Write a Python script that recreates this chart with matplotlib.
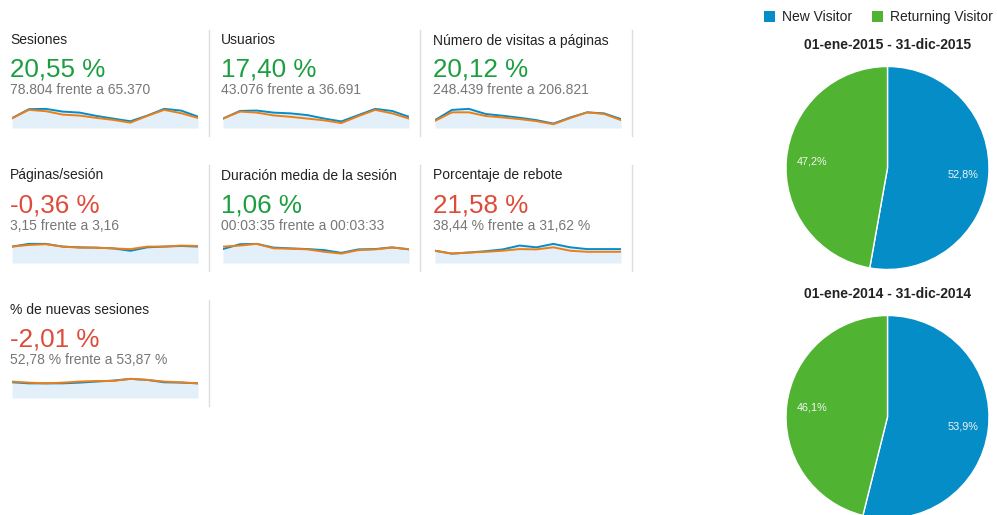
import matplotlib
matplotlib.use("Agg")
import matplotlib.pyplot as plt
from matplotlib.patches import Rectangle

plt.rcParams['font.family'] = ['Liberation Sans', 'DejaVu Sans']

W, H = 997, 515

# metric cards: name, change vs previous year, totals text
metric_names = ["Sesiones", "Usuarios", "Número de visitas a páginas",
                "Páginas/sesión", "Duración media de la sesión", "Porcentaje de rebote",
                "% de nuevas sesiones"]
metric_changes = ["20,55 %", "17,40 %", "20,12 %", "-0,36 %", "1,06 %", "21,58 %", "-2,01 %"]
metric_good = [True, True, True, False, True, False, False]
metric_compare = ["78.804 frente a 65.370", "43.076 frente a 36.691",
                  "248.439 frente a 206.821", "3,15 frente a 3,16",
                  "00:03:35 frente a 00:03:33", "38,44 % frente a 31,62 %",
                  "52,78 % frente a 53,87 %"]

# monthly values, 2015 (current) and 2014 (previous)
sessions_2015 = [4580, 8830, 8970, 7700, 7220, 5660, 4390, 3160, 5810, 8970, 8170, 5330]
sessions_2014 = [4580, 8500, 7880, 6280, 5810, 4720, 3780, 2500, 5660, 8500, 6940, 4720]
users_2015 = [2480, 4500, 4610, 4060, 3860, 3400, 2480, 1740, 3400, 5050, 4500, 2950]
users_2014 = [2480, 4330, 4060, 3310, 2950, 2480, 2010, 1300, 3120, 4780, 3860, 2480]
pageviews_2015 = [13630, 31330, 33100, 24250, 21240, 17700, 13630, 7610, 18230, 27080, 25310, 15400]
pageviews_2014 = [12390, 27080, 27080, 20710, 18230, 15400, 11860, 6550, 17170, 27080, 24250, 13630]
pps_2015 = [3.19, 3.72, 3.72, 3.19, 3.05, 2.98, 2.84, 2.37, 3.05, 3.19, 3.31, 3.19]
pps_2014 = [3.19, 3.51, 3.65, 3.19, 2.98, 2.98, 2.84, 2.70, 3.19, 3.19, 3.39, 3.31]
duration_2015 = [205, 276, 281, 226, 215, 205, 189, 149, 200, 205, 230, 200]
duration_2014 = [241, 256, 281, 215, 210, 200, 164, 138, 189, 200, 226, 204]
bounce_2015 = [33.6, 25.8, 28.7, 32.4, 37.3, 47.9, 43.0, 52.5, 43.0, 38.2, 38.2, 38.2]
bounce_2014 = [33.6, 25.8, 28.7, 30.7, 33.6, 38.2, 37.3, 43.0, 33.6, 30.7, 30.7, 30.7]
newsess_2015 = [51.8, 48.3, 48.3, 48.3, 50.7, 54.2, 57.6, 63.1, 59.7, 51.8, 50.7, 48.3]
newsess_2014 = [54.2, 50.7, 48.3, 50.7, 54.2, 56.2, 56.2, 63.1, 59.7, 54.2, 51.8, 48.3]

series_now = [sessions_2015, users_2015, pageviews_2015, pps_2015,
              duration_2015, bounce_2015, newsess_2015]
series_prev = [sessions_2014, users_2014, pageviews_2014, pps_2014,
               duration_2014, bounce_2014, newsess_2014]

# visitor type split per period
pie_labels = ["New Visitor", "Returning Visitor"]
pie_2015 = [52.8, 47.2]
pie_2014 = [53.9, 46.1]
pie_titles = ["01-ene-2015 - 31-dic-2015", "01-ene-2014 - 31-dic-2014"]

BLUE = '#058dc7'
ORANGE = '#ed7e17'
GREEN_PIE = '#50b432'
FILL = '#e3f0fa'
UP = '#1b9e3e'
DOWN = '#dd4b39'

fig = plt.figure(figsize=(W / 100, H / 100), dpi=100)
fig.patch.set_facecolor('white')


def fx(x):
    return x / W


def fy(y):
    return 1 - y / H


col_x = [10, 221, 433]
row_top = [40, 175, 310]
sep_x = [209, 420, 632]

for i, name in enumerate(metric_names):
    r, c = divmod(i, 3)
    x0, t = col_x[c], row_top[r]
    fig.text(fx(x0), fy(t + 0.5), name, fontsize=10, color='#222222', va='center')
    fig.text(fx(x0), fy(t + 30), metric_changes[i], fontsize=18.7,
             color=UP if metric_good[i] else DOWN, va='center')
    fig.text(fx(x0), fy(t + 50.5), metric_compare[i], fontsize=10,
             color='#777777', va='center')

    # sparkline
    bottom = t + 88
    ax = fig.add_axes([fx(x0 + 2), fy(bottom), 186 / W, 22 / H])
    months = range(len(series_now[i]))
    ax.fill_between(months, series_now[i], 0, color=FILL, lw=0)
    ax.plot(months, series_now[i], color=BLUE, lw=1.4)
    ax.plot(months, series_prev[i], color=ORANGE, lw=1.4)
    ax.set_xlim(0, len(series_now[i]) - 1)
    ax.set_ylim(0, max(series_now[i] + series_prev[i]) * 1.15)
    ax.axis('off')

    # vertical separator on the right of each card
    sx = sep_x[c]
    fig.add_artist(plt.Line2D([fx(sx), fx(sx)], [fy(t - 10), fy(bottom + 8)],
                              color='#dddddd', lw=1))

# legend
for lab, col, lx in zip(pie_labels, [BLUE, GREEN_PIE], [764, 872]):
    fig.add_artist(Rectangle((fx(lx), fy(22)), 11 / W, 11 / H,
                             transform=fig.transFigure, color=col, lw=0))
    fig.text(fx(lx + 18), fy(17), lab, fontsize=10, color='#222222', va='center')

# pies
for vals, title, cy in zip([pie_2015, pie_2014], pie_titles, [168, 417]):
    cx, rad = 887.5, 101.5
    fig.text(fx(cx), fy(cy - 123), title, fontsize=10, fontweight='bold',
             color='#222222', ha='center', va='center')
    pax = fig.add_axes([fx(cx - rad), fy(cy + rad), 2 * rad / W, 2 * rad / H])
    wedges, texts, autotexts = pax.pie(
        vals, colors=[BLUE, GREEN_PIE], startangle=90, counterclock=False,
        autopct=lambda p: f'{p:.1f}%'.replace('.', ','), pctdistance=0.75,
        wedgeprops=dict(edgecolor='white', linewidth=1))
    for a in autotexts:
        a.set_color('#f4f4f4')
        a.set_fontsize(7.8)
    pax.set_xlim(-1, 1)
    pax.set_ylim(-1, 1)

fig.savefig("out.png", dpi=100, facecolor='white')
